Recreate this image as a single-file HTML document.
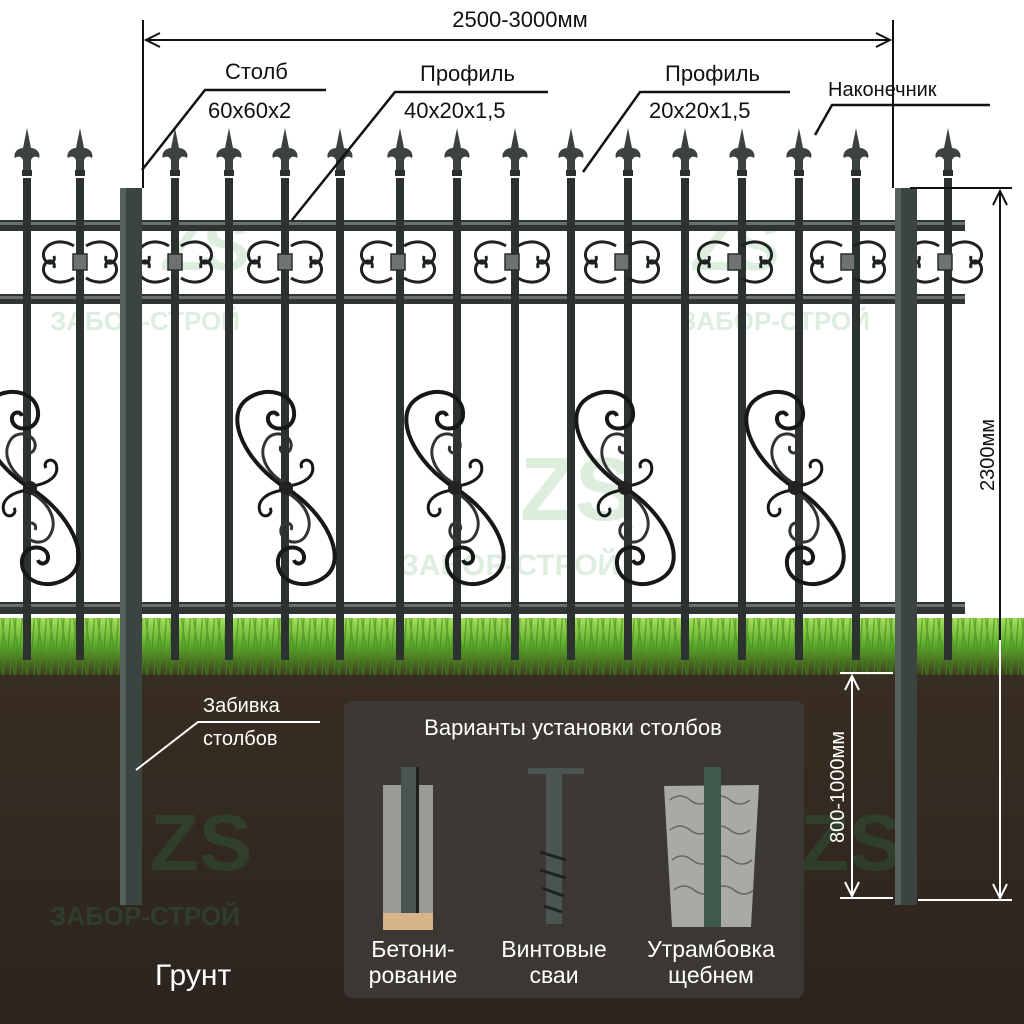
<!DOCTYPE html>
<html><head><meta charset="utf-8"><style>
html,body{margin:0;padding:0;background:#fff}
svg{display:block}
text{font-family:"Liberation Sans",sans-serif}
</style></head><body>
<svg width="1024" height="1024" viewBox="0 0 1024 1024" xmlns="http://www.w3.org/2000/svg">
<defs>
<linearGradient id="soil" x1="0" y1="0" x2="0" y2="1">
<stop offset="0" stop-color="#3a2e22"/><stop offset="1" stop-color="#2b241f"/></linearGradient>
<linearGradient id="grass" x1="0" y1="0" x2="0" y2="1">
<stop offset="0" stop-color="#a6e05a"/><stop offset="0.5" stop-color="#5aa82a"/><stop offset="1" stop-color="#3d3a1e"/></linearGradient>
<pattern id="blades" width="12" height="50" patternUnits="userSpaceOnUse">
<path d="M2,50 L5,0 M8,50 L11,10 M6,50 L1,15" stroke="#3f8a1e" stroke-width="1.5" fill="none"/>
</pattern>
<g id="fin">
<path d="M0,-50 L4,-30 C10,-30 14,-24 12,-20 C9,-22 6,-22 4,-18 L4,-8 L-4,-8 L-4,-18 C-6,-22 -9,-22 -12,-20 C-14,-24 -10,-30 -4,-30 Z" fill="#3b423f"/>
<rect x="-5" y="-8" width="10" height="6" fill="#2b302e"/>
</g>
<g id="cs" fill="none" stroke="#1e2221" stroke-width="3">
<path d="M-6,-16 C-22,-26 -40,-16 -36,-4 C-33,4 -24,2 -26,-6"/>
<path d="M-6,16 C-22,26 -40,16 -36,4 C-33,-4 -24,-2 -26,6"/>
<path d="M6,-16 C22,-26 40,-16 36,-4 C33,4 24,2 26,-6"/>
<path d="M6,16 C22,26 40,16 36,4 C33,-4 24,-2 26,6"/>
<rect x="-7" y="-8" width="14" height="16" fill="#6d7370" stroke="#2a2e2d" stroke-width="1.5"/>
</g>
<g id="bs" fill="none" stroke="#151817" stroke-width="4">
<path d="M0,0 C-40,-25 -62,-70 -40,-88 C-20,-104 10,-95 8,-72 C6,-56 -16,-56 -18,-68 C-19,-76 -10,-78 -8,-72"/>
<path d="M0,0 C40,25 62,70 40,88 C20,104 -10,95 -8,72 C-6,56 16,56 18,68 C19,76 10,78 8,72"/>
<path d="M0,-4 C-20,-15 -30,-35 -18,-50 C-8,-60 10,-50 4,-38 C0,-32 -8,-36 -5,-42" stroke-width="3" stroke="#333"/>
<path d="M0,4 C20,15 30,35 18,50 C8,60 -10,50 -4,38 C0,32 8,36 5,42" stroke-width="3" stroke="#333"/>
<path d="M2,-2 C18,-4 30,-12 26,-24 C22,-32 12,-26 16,-20" stroke-width="3"/>
<path d="M-2,2 C-18,4 -30,12 -26,24 C-22,32 -12,26 -16,20" stroke-width="3"/>
<circle r="7" fill="#222" stroke="none"/>
</g>
</defs>
<rect width="1024" height="1024" fill="#fff"/>
<rect x="0" y="640" width="1024" height="384" fill="url(#soil)"/>
<rect x="0" y="618" width="1024" height="57" fill="url(#grass)"/>
<rect x="0" y="618" width="1024" height="57" fill="url(#blades)" opacity="0.6"/>
<g fill="#cfe8d2" opacity="0.7" font-weight="bold">
<text x="690" y="270" font-size="70">ZS</text>
<text x="520" y="520" font-size="90">ZS</text>
<text x="160" y="270" font-size="70">ZS</text>
<text x="680" y="330" font-size="26">ЗАБОР-СТРОЙ</text>
<text x="50" y="330" font-size="26">ЗАБОР-СТРОЙ</text>
<text x="400" y="575" font-size="30">ЗАБОР-СТРОЙ</text>
</g>
<g fill="#2e5a3a" opacity="0.45" font-weight="bold">
<text x="150" y="870" font-size="80">ZS</text>
<text x="800" y="870" font-size="80">ZS</text>
<text x="50" y="925" font-size="26">ЗАБОР-СТРОЙ</text>
</g>
<g fill="#2f3533">
<rect x="0" y="220" width="965" height="11"/>
<rect x="0" y="294" width="965" height="10"/>
<rect x="0" y="602" width="965" height="12"/>
</g>
<rect x="0" y="222" width="965" height="3" fill="#6a706d"/>
<rect x="0" y="296" width="965" height="3" fill="#6a706d"/>
<rect x="0" y="604" width="965" height="3" fill="#6a706d"/>
<g fill="#2c3230">
<rect x="23" y="178" width="8" height="482"/><rect x="76" y="178" width="8" height="482"/>
<rect x="171" y="178" width="8" height="482"/><rect x="225" y="178" width="8" height="482"/>
<rect x="281" y="178" width="8" height="482"/><rect x="336" y="178" width="8" height="482"/>
<rect x="396" y="178" width="8" height="482"/><rect x="453" y="178" width="8" height="482"/>
<rect x="511" y="178" width="8" height="482"/><rect x="567" y="178" width="8" height="482"/>
<rect x="624" y="178" width="8" height="482"/><rect x="681" y="178" width="8" height="482"/>
<rect x="738" y="178" width="8" height="482"/><rect x="795" y="178" width="8" height="482"/>
<rect x="852" y="178" width="8" height="482"/><rect x="944" y="178" width="8" height="482"/>
</g>
<use href="#fin" x="27" y="178"/><use href="#fin" x="80" y="178"/><use href="#fin" x="175" y="178"/>
<use href="#fin" x="229" y="178"/><use href="#fin" x="285" y="178"/><use href="#fin" x="340" y="178"/>
<use href="#fin" x="400" y="178"/><use href="#fin" x="457" y="178"/><use href="#fin" x="515" y="178"/>
<use href="#fin" x="571" y="178"/><use href="#fin" x="628" y="178"/><use href="#fin" x="685" y="178"/>
<use href="#fin" x="742" y="178"/><use href="#fin" x="799" y="178"/><use href="#fin" x="856" y="178"/>
<use href="#fin" x="948" y="178"/>
<use href="#cs" x="80" y="262"/><use href="#cs" x="175" y="262"/><use href="#cs" x="285" y="262"/>
<use href="#cs" x="398" y="262"/><use href="#cs" x="512" y="262"/><use href="#cs" x="622" y="262"/>
<use href="#cs" x="735" y="262"/><use href="#cs" x="848" y="262"/><use href="#cs" x="945" y="262"/>
<use href="#bs" x="30" y="488"/><use href="#bs" x="286" y="488"/><use href="#bs" x="455" y="488"/>
<use href="#bs" x="625" y="488"/><use href="#bs" x="795" y="488"/>
<rect x="120" y="188" width="22" height="717" fill="#3c4441"/>
<rect x="120" y="188" width="6" height="717" fill="#56605c"/>
<rect x="895" y="188" width="22" height="717" fill="#3c4441"/>
<rect x="895" y="188" width="6" height="717" fill="#56605c"/>
<g stroke="#111" stroke-width="2" fill="none">
<line x1="143" y1="20" x2="143" y2="188"/>
<line x1="893" y1="20" x2="893" y2="188"/>
<line x1="148" y1="40" x2="888" y2="40"/>
<path d="M160,33 L146,40 L160,47 M876,33 L890,40 L876,47"/>
<line x1="910" y1="188" x2="1012" y2="188"/>
<line x1="1000" y1="192" x2="1000" y2="640"/>
<path d="M993,205 L1000,191 L1007,205"/>
</g>
<g stroke="#fff" stroke-width="2" fill="none">
<line x1="840" y1="673" x2="893" y2="673"/>
<line x1="840" y1="898" x2="893" y2="898"/>
<line x1="852" y1="677" x2="852" y2="894"/>
<path d="M845,690 L852,676 L859,690 M845,882 L852,896 L859,882"/>
<line x1="918" y1="900" x2="1012" y2="900"/>
<line x1="1000" y1="640" x2="1000" y2="896"/>
<path d="M993,884 L1000,898 L1007,884"/>
</g>
<text x="520" y="27" font-size="22" text-anchor="middle" fill="#111">2500-3000мм</text>
<text transform="translate(994,455) rotate(-90)" font-size="20" text-anchor="middle" fill="#111">2300мм</text>
<text transform="translate(844,787) rotate(-90)" font-size="20" text-anchor="middle" fill="#fff">800-1000мм</text>
<g stroke="#111" stroke-width="2.5" fill="none">
<path d="M142,170 L205,90 L326,90"/>
<path d="M292,220 L395,92 L548,92"/>
<path d="M583,172 L640,92 L790,92"/>
<path d="M815,135 L832,105 L990,105"/>
</g>
<g font-size="22" fill="#111">
<text x="225" y="79">Столб</text><text x="208" y="118">60x60x2</text>
<text x="420" y="81">Профиль</text><text x="404" y="118">40x20x1,5</text>
<text x="665" y="81">Профиль</text><text x="649" y="118">20x20x1,5</text>
<text x="828" y="96" font-size="20">Наконечник</text>
</g>
<g stroke="#fff" stroke-width="2" fill="none"><path d="M136,770 L198,722 L320,722"/></g>
<g font-size="20" fill="#fff"><text x="203" y="712">Забивка</text><text x="203" y="745">столбов</text></g>
<text x="155" y="985" font-size="30" fill="#fff">Грунт</text>
<rect x="344" y="701" width="460" height="297" rx="8" fill="#3d3936" opacity="0.92"/>
<text x="573" y="735" font-size="22" text-anchor="middle" fill="#fff">Варианты установки столбов</text>
<rect x="383" y="785" width="50" height="130" fill="#9c9a95"/>
<rect x="383" y="913" width="50" height="17" fill="#d8b48a"/>
<rect x="401" y="767" width="17" height="146" fill="#4a5450"/>
<rect x="416" y="767" width="3" height="146" fill="#1c1f1e"/>
<rect x="528" y="768" width="56" height="6" fill="#4a5450"/>
<rect x="546" y="774" width="16" height="150" fill="#4a5450"/>
<g stroke="#1e2221" stroke-width="3"><line x1="540" y1="852" x2="566" y2="860"/><line x1="540" y1="870" x2="566" y2="878"/><line x1="542" y1="888" x2="564" y2="896"/><line x1="544" y1="906" x2="562" y2="912"/></g>
<path d="M664,786 L759,785 L751,927 L672,927 Z" fill="#a9aaa5"/>
<g fill="none" stroke="#4a4a48" stroke-width="1.5" opacity="0.7">
<path d="M670,800 q10,-8 20,0 q10,8 20,0 q10,-8 20,0 q10,8 20,0 M670,830 q10,-8 20,0 q10,8 20,0 q10,-8 20,0 q10,8 20,0 M672,860 q10,-8 20,0 q10,8 20,0 q10,-8 20,0 q10,8 20,0 M674,890 q10,-8 20,0 q10,8 20,0 q10,-8 20,0 q10,8 20,0"/>
</g>
<rect x="704" y="767" width="17" height="160" fill="#3f5a4c"/>
<g font-size="23" fill="#fff" text-anchor="middle">
<text x="413" y="957">Бетони-</text><text x="413" y="983">рование</text>
<text x="554" y="957">Винтовые</text><text x="554" y="983">сваи</text>
<text x="711" y="957">Утрамбовка</text><text x="711" y="983">щебнем</text>
</g>
</svg>
</body></html>
